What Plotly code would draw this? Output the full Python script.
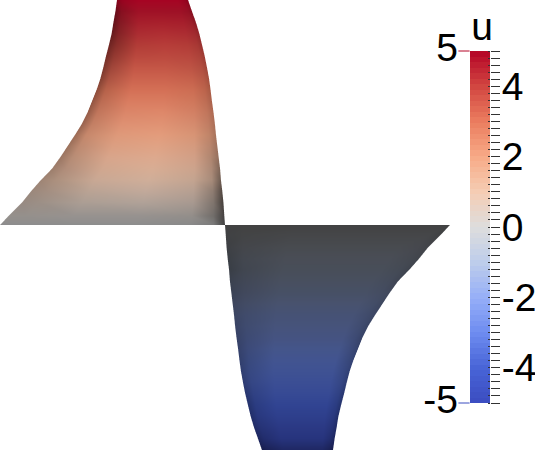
import numpy as np
import plotly.graph_objects as go

W, H = 535, 452

# colour bar stops
cmap_u = [-5, -4, -3, -2, -1, 0, 1, 2, 3, 4, 5]
cmap_r = [59, 72, 110, 150, 190, 221, 245, 247, 235, 210, 180]
cmap_g = [76, 100, 140, 175, 205, 221, 205, 170, 125, 70, 4]
cmap_b = [192, 215, 240, 248, 235, 221, 180, 135, 95, 65, 38]

# lobe outline: height u, with the left and right edge of the upper lobe
# (the lower lobe is the same outline turned by 180 degrees)
u_levels = [0, 0.2, 0.5, 0.75, 1, 1.25, 1.5, 1.75, 2, 2.25, 2.5,
            2.75, 3, 3.25, 3.5, 3.75, 4, 4.25, 4.5, 4.75, 5]
x_left = [-1.0, -0.962, -0.902, -0.862, -0.818, -0.769, -0.733, -0.7, -0.667, -0.636, -0.611,
          -0.591, -0.571, -0.554, -0.541, -0.529, -0.516, -0.504, -0.496, -0.487, -0.48]
x_right = [0.0, -0.003, -0.007, -0.012, -0.018, -0.022, -0.028, -0.034, -0.04, -0.045, -0.051,
           -0.058, -0.064, -0.071, -0.08, -0.09, -0.102, -0.114, -0.129, -0.147, -0.164]

# brightness of the shaded surface, row per u level, column per place across
across = [0, 0.08, 0.3, 0.6, 0.85, 0.95, 1]
shade_pos = [
    [0.64, 0.64, 0.64, 0.64, 0.62, 0.55, 0.3],
    [0.66, 0.66, 0.67, 0.67, 0.65, 0.5, 0.3],
    [0.65, 0.67, 0.74, 0.76, 0.72, 0.55, 0.3],
    [0.65, 0.68, 0.78, 0.81, 0.76, 0.6, 0.35],
    [0.65, 0.7, 0.82, 0.85, 0.8, 0.68, 0.45],
    [0.64, 0.72, 0.85, 0.88, 0.83, 0.7, 0.52],
    [0.63, 0.75, 0.88, 0.9, 0.85, 0.72, 0.6],
    [0.63, 0.77, 0.89, 0.91, 0.86, 0.75, 0.64],
    [0.63, 0.8, 0.9, 0.92, 0.87, 0.78, 0.68],
    [0.62, 0.8, 0.91, 0.92, 0.87, 0.79, 0.7],
    [0.62, 0.8, 0.91, 0.92, 0.87, 0.8, 0.72],
    [0.61, 0.79, 0.91, 0.91, 0.87, 0.8, 0.72],
    [0.6, 0.78, 0.9, 0.9, 0.87, 0.8, 0.72],
    [0.57, 0.75, 0.89, 0.89, 0.86, 0.8, 0.72],
    [0.55, 0.72, 0.88, 0.88, 0.85, 0.8, 0.72],
    [0.53, 0.68, 0.86, 0.87, 0.85, 0.8, 0.72],
    [0.52, 0.65, 0.85, 0.87, 0.85, 0.8, 0.72],
    [0.5, 0.65, 0.85, 0.87, 0.85, 0.8, 0.72],
    [0.5, 0.67, 0.85, 0.86, 0.85, 0.8, 0.7],
    [0.55, 0.72, 0.85, 0.85, 0.84, 0.8, 0.72],
    [0.75, 0.85, 0.92, 0.92, 0.92, 0.85, 0.75],
]
shade_neg = [
    [0.3, 0.3, 0.3, 0.3, 0.3, 0.3, 0.3],
    [0.3, 0.31, 0.32, 0.32, 0.32, 0.32, 0.3],
    [0.3, 0.33, 0.35, 0.35, 0.35, 0.34, 0.32],
    [0.3, 0.34, 0.37, 0.37, 0.37, 0.35, 0.33],
    [0.3, 0.34, 0.38, 0.38, 0.38, 0.36, 0.33],
    [0.33, 0.36, 0.4, 0.4, 0.4, 0.38, 0.35],
    [0.35, 0.38, 0.42, 0.42, 0.42, 0.4, 0.38],
    [0.38, 0.41, 0.45, 0.45, 0.45, 0.42, 0.39],
    [0.4, 0.43, 0.47, 0.47, 0.47, 0.43, 0.4],
    [0.41, 0.45, 0.5, 0.5, 0.5, 0.45, 0.41],
    [0.42, 0.47, 0.53, 0.53, 0.53, 0.47, 0.42],
    [0.44, 0.5, 0.57, 0.57, 0.57, 0.5, 0.45],
    [0.45, 0.52, 0.6, 0.6, 0.6, 0.52, 0.48],
    [0.48, 0.55, 0.63, 0.63, 0.63, 0.55, 0.49],
    [0.5, 0.58, 0.65, 0.65, 0.65, 0.58, 0.5],
    [0.5, 0.59, 0.67, 0.67, 0.67, 0.59, 0.5],
    [0.5, 0.6, 0.68, 0.68, 0.68, 0.6, 0.5],
    [0.5, 0.6, 0.67, 0.67, 0.67, 0.6, 0.5],
    [0.5, 0.58, 0.65, 0.65, 0.65, 0.58, 0.5],
    [0.48, 0.55, 0.63, 0.63, 0.63, 0.55, 0.48],
    [0.4, 0.45, 0.52, 0.52, 0.52, 0.45, 0.4],
]

# colour bar ticks
major_ticks = [5, 4, 2, 0, -2, -4, -5]
major_text = ["", "4", "2", "0", "-2", "-4", ""]
minor_ticks = [i / 5 for i in range(-25, 26)]
end_ticks = [5, -5]
end_text = ["5", "-5"]
end_colors = ["rgb(180,4,38)", "rgb(59,76,192)"]
title_text = ["u"]

FONT = "Liberation Sans"
INK = "rgb(50,50,50)"


def lobe(us, lefts, rights, shades):
    xs, ys, cols, i, j, k = [], [], [], [], [], []
    n = len(across)
    for row, u in enumerate(us):
        base = [np.interp(u, cmap_u, c) for c in (cmap_r, cmap_g, cmap_b)]
        for col, f in enumerate(across):
            xs.append(lefts[row] + f * (rights[row] - lefts[row]))
            ys.append(u)
            s = shades[row][col]
            cols.append("rgb(%d,%d,%d)" % tuple(round(b * s) for b in base))
    for row in range(len(us) - 1):
        for col in range(n - 1):
            a = row * n + col
            b = a + 1
            c = a + n
            d = c + 1
            i += [a, b]
            j += [b, d]
            k += [c, c]
    return go.Mesh3d(
        x=xs, y=ys, z=[0] * len(xs), i=i, j=j, k=k, vertexcolor=cols,
        lighting=dict(ambient=1, diffuse=0, specular=0, roughness=1, fresnel=0),
        hoverinfo="skip", showscale=False,
    )


fig = go.Figure()
fig.add_trace(lobe(u_levels, x_left, x_right, shade_pos))
fig.add_trace(lobe([-u for u in u_levels], [-x for x in x_right], [-x for x in x_left], shade_neg))

# colour bar with the banding of the legend; its x axis runs in pixels of the page
bar_levels = np.linspace(-5 + 5 / 64, 5 - 5 / 64, 64)
stops = [[(u + 5) / 10, "rgb(%d,%d,%d)" % (r, g, b)]
         for u, r, g, b in zip(cmap_u, cmap_r, cmap_g, cmap_b)]
fig.add_trace(go.Heatmap(
    z=[[v] for v in bar_levels], y=bar_levels, x=[470, 490], zmin=-5, zmax=5,
    colorscale=stops, showscale=False, hoverinfo="skip",
))
fig.add_trace(go.Scatter(
    x=[464, 464], y=end_ticks, mode="markers+text", text=end_text,
    textposition="middle left", hoverinfo="skip",
    marker=dict(symbol="line-ew", size=8, line=dict(width=1, color=end_colors)),
    textfont=dict(family=FONT, size=39, color="black"),
))
fig.add_trace(go.Scatter(
    x=[482], y=[5.58], mode="text", text=title_text,
    textposition="middle center", hoverinfo="skip",
    textfont=dict(family=FONT, size=39, color="black"),
))
# carries the inner half of the tick marks
fig.add_trace(go.Scatter(x=[480], y=[0], yaxis="y2", mode="none", hoverinfo="skip"))

# scene area is 455 px wide, the lobes span 450 px around x=0
fig.update_layout(
    width=W, height=H, margin=dict(l=0, r=0, t=0, b=0),
    paper_bgcolor="white", plot_bgcolor="rgba(0,0,0,0)", showlegend=False,
    scene=dict(
        domain=dict(x=[0, 455 / W], y=[0, 1]),
        aspectmode="manual", aspectratio=dict(x=2 * 455 / 452, y=2, z=0.2),
        xaxis=dict(visible=False, range=[-1, 1.0222]),
        yaxis=dict(visible=False, range=[-5.044, 5]),
        zaxis=dict(visible=False, range=[-1, 1]),
        camera=dict(
            projection=dict(type="orthographic"),
            eye=dict(x=0, y=0, z=1), center=dict(x=0, y=0, z=0), up=dict(x=0, y=1, z=0),
        ),
    ),
    xaxis=dict(domain=[400 / W, 1], range=[400, 535], visible=False, fixedrange=True),
    yaxis=dict(
        domain=[0, 1], range=[-6.392, 6.449], side="right", anchor="free", position=490 / W,
        showline=False, showgrid=False, zeroline=False, fixedrange=True, automargin=False,
        tickmode="array", tickvals=major_ticks, ticktext=major_text, ticklabelstandoff=-6,
        ticks="outside", ticklen=9, tickwidth=1, tickcolor=INK,
        minor=dict(tickmode="array", tickvals=minor_ticks, ticks="outside",
                   ticklen=9, tickwidth=1, tickcolor=INK),
        tickfont=dict(family=FONT, size=39, color="black"),
    ),
    yaxis2=dict(
        overlaying="y", side="right", anchor="free", position=490 / W, range=[-6.392, 6.449],
        showline=False, showgrid=False, zeroline=False, fixedrange=True, automargin=False,
        tickmode="array", tickvals=major_ticks, ticktext=[""] * 7,
        ticks="inside", ticklen=9, tickwidth=1, tickcolor=INK,
        minor=dict(tickmode="array", tickvals=minor_ticks, ticks="inside",
                   ticklen=2, tickwidth=1, tickcolor=INK),
    ),
)

fig.write_html("out.html", config=dict(displayModeBar=False),
               post_script="document.body.style.margin='0';")
